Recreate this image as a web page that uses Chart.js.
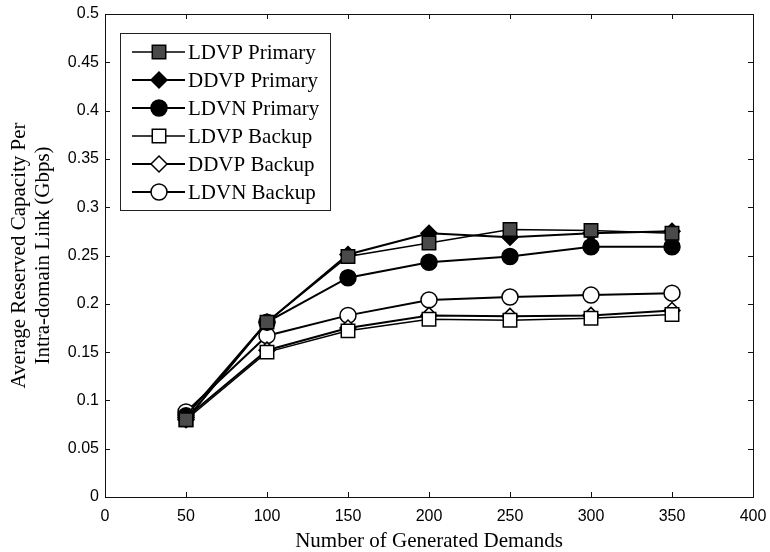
<!DOCTYPE html>
<html>
<head>
<meta charset="utf-8">
<title>Capacidade reservada</title>
<script src="https://cdn.jsdelivr.net/npm/chart.js"></script>
<style>
  body { margin: 0; background: #fff; }
  #wrap { width: 770px; height: 552px; }
</style>
</head>
<body>
<div id="wrap"><canvas id="lineChart" width="770" height="552"></canvas></div>
<script>
/* Dados */
const demandas = [50, 100, 150, 200, 250, 300, 350];
const ldvpPrimario = [0.080, 0.181, 0.249, 0.263, 0.277, 0.276, 0.273];
const ddvpPrimario = [0.080, 0.181, 0.251, 0.273, 0.269, 0.273, 0.275];
const ldvnPrimario = [0.084, 0.181, 0.227, 0.243, 0.249, 0.259, 0.259];
const ldvpBackup = [0.080, 0.150, 0.172, 0.184, 0.183, 0.185, 0.189];
const ddvpBackup = [0.082, 0.152, 0.175, 0.188, 0.187, 0.188, 0.193];
const ldvnBackup = [0.088, 0.167, 0.188, 0.204, 0.207, 0.209, 0.211];

const ticksX = [0, 50, 100, 150, 200, 250, 300, 350, 400];
const ticksY = [0, 0.05, 0.1, 0.15, 0.2, 0.25, 0.3, 0.35, 0.4, 0.45, 0.5];

const pontos = valores => valores.map((v, i) => ({x: demandas[i], y: v}));

function serie(label, valores, estilo, raio, preenchimento, espessura) {
  return {
    label: label,
    data: pontos(valores),
    borderColor: '#000',
    borderWidth: espessura,
    pointStyle: estilo,
    pointRadius: raio,
    pointHoverRadius: raio,
    pointBackgroundColor: preenchimento,
    pointBorderColor: '#000',
    pointBorderWidth: 1.5,
    tension: 0
  };
}

/* moldura com ticks para dentro, estilo matlab */
const moldura = {
  id: 'moldura',
  afterDraw(chart) {
    const {ctx, chartArea: a, scales: {x, y}} = chart;
    ctx.save();
    ctx.strokeStyle = '#111';
    ctx.lineWidth = 1;
    ctx.strokeRect(a.left + 0.5, a.top + 0.5, a.right - a.left, a.bottom - a.top);
    ctx.beginPath();
    ticksX.forEach(v => {
      const px = Math.round(x.getPixelForValue(v)) + 0.5;
      ctx.moveTo(px, a.bottom); ctx.lineTo(px, a.bottom - 5);
      ctx.moveTo(px, a.top); ctx.lineTo(px, a.top + 5);
    });
    ticksY.forEach(v => {
      const py = Math.round(y.getPixelForValue(v)) + 0.5;
      ctx.moveTo(a.left, py); ctx.lineTo(a.left + 5, py);
      ctx.moveTo(a.right, py); ctx.lineTo(a.right - 5, py);
    });
    ctx.stroke();
    ctx.restore();
  }
};

/* legenda dentro do grafico, linha passando pelo marcador */
const legenda = {
  id: 'legenda',
  afterDatasetsDraw(chart) {
    const ctx = chart.ctx;
    const bx = 120, by = 33, bw = 210, bh = 177, passo = 28;
    ctx.save();
    ctx.fillStyle = '#fff';
    ctx.fillRect(bx, by, bw, bh);
    ctx.strokeStyle = '#222';
    ctx.lineWidth = 1;
    ctx.strokeRect(bx + 0.5, by + 0.5, bw, bh);
    chart.data.datasets.forEach((ds, i) => {
      const cy = by + 19 + i * passo;
      ctx.strokeStyle = '#000';
      ctx.lineWidth = ds.borderWidth;
      ctx.beginPath();
      ctx.moveTo(132, cy);
      ctx.lineTo(185, cy);
      ctx.stroke();
      ctx.fillStyle = ds.pointBackgroundColor;
      ctx.lineWidth = ds.pointBorderWidth;
      Chart.helpers.drawPoint(ctx, {
        pointStyle: ds.pointStyle,
        radius: ds.pointRadius,
        borderWidth: ds.pointBorderWidth,
        rotation: 0
      }, 159, cy);
      ctx.fillStyle = '#000';
      ctx.font = '21px "Liberation Serif", "Times New Roman", serif';
      ctx.textBaseline = 'middle';
      ctx.textAlign = 'left';
      ctx.fillText(ds.label, 188, cy + 1);
    });
    ctx.restore();
  }
};

document.addEventListener('DOMContentLoaded', () => {
  const ctx = document.getElementById('lineChart').getContext('2d');

  new Chart(ctx, {
    type: 'line',
    data: {
      datasets: [
        serie('LDVP Primary', ldvpPrimario, 'rect', 9.5, '#4a4a4a', 1.5),
        serie('DDVP Primary', ddvpPrimario, 'rectRot', 8, '#000', 2),
        serie('LDVN Primary', ldvnPrimario, 'circle', 8, '#000', 2),
        serie('LDVP Backup', ldvpBackup, 'rect', 9.5, '#fff', 1.5),
        serie('DDVP Backup', ddvpBackup, 'rectRot', 8, '#fff', 2),
        serie('LDVN Backup', ldvnBackup, 'circle', 8, '#fff', 2)
      ]
    },
    options: {
      responsive: false,
      animation: false,
      layout: {padding: {left: 0, top: 14, right: 17, bottom: 0}},
      scales: {
        x: {
          type: 'linear',
          min: 0,
          max: 400,
          // tamanho fixo do eixo, sem a folga automatica do ultimo rotulo
          afterFit: s => { s.height = 55; s.paddingLeft = 0; s.paddingRight = 0; },
          afterBuildTicks: s => { s.ticks = ticksX.map(v => ({value: v})); },
          grid: {display: false, drawTicks: false},
          border: {display: false},
          ticks: {
            padding: 10,
            color: '#000',
            maxRotation: 0,
            font: {family: '"Liberation Sans", Arial, sans-serif', size: 16}
          },
          title: {
            display: true,
            text: 'Number of Generated Demands',
            color: '#000',
            padding: {top: 0, bottom: 0},
            font: {family: '"Liberation Serif", "Times New Roman", serif', size: 21, lineHeight: 1}
          }
        },
        y: {
          min: 0,
          max: 0.5,
          afterFit: s => { s.width = 105; s.paddingTop = 0; s.paddingBottom = 0; },
          afterBuildTicks: s => { s.ticks = ticksY.map(v => ({value: v})); },
          grid: {display: false, drawTicks: false},
          border: {display: false},
          ticks: {
            padding: 6,
            color: '#000',
            callback: v => String(Math.round(v * 100) / 100),
            font: {family: '"Liberation Sans", Arial, sans-serif', size: 16}
          },
          title: {
            display: true,
            text: ['Average Reserved Capacity Per', 'Intra-domain Link (Gbps)'],
            color: '#000',
            padding: {top: 7, bottom: 0},
            font: {family: '"Liberation Serif", "Times New Roman", serif', size: 21, lineHeight: 1.15}
          }
        }
      },
      plugins: {
        legend: {display: false},
        tooltip: {enabled: false}
      }
    },
    plugins: [moldura, legenda]
  });
});
</script>
</body>
</html>
